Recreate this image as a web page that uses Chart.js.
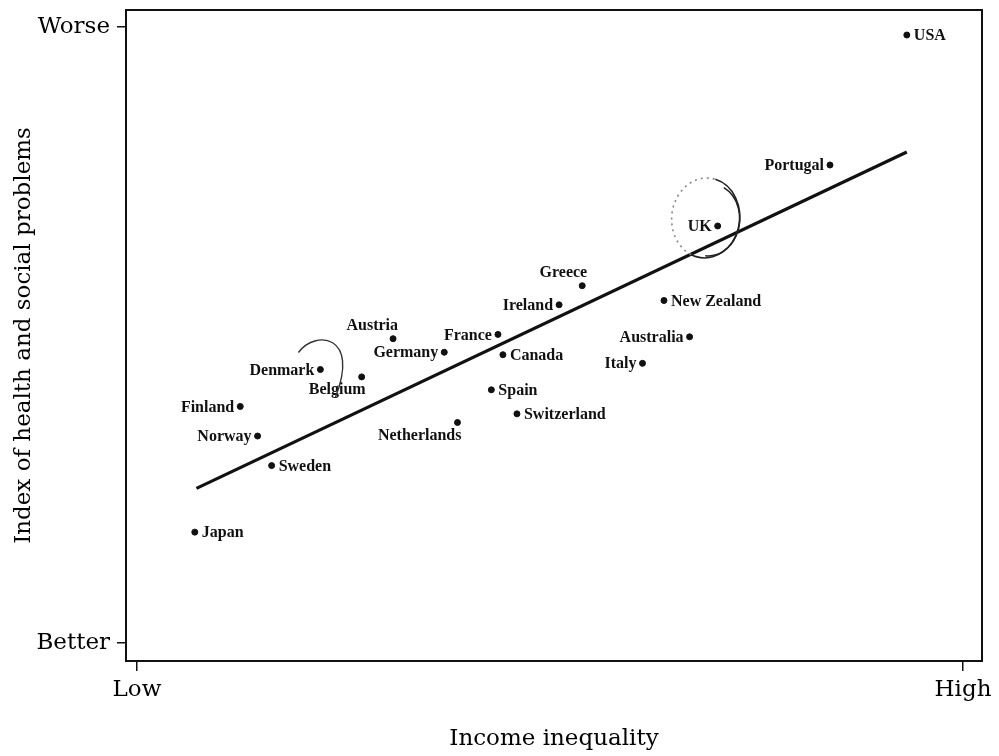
<!DOCTYPE html>
<html>
<head>
<meta charset="utf-8">
<script src="https://cdn.jsdelivr.net/npm/chart.js@4/dist/chart.umd.min.js"></script>
<style>
  html, body { margin: 0; padding: 0; background: #fff; }
  #wrap { width: 999px; height: 756px; }
</style>
</head>
<body>
<div id="wrap"><canvas id="chart" width="999" height="756"></canvas></div>
<script>
// Values (0 = Low / Better, 100 = High / Worse)
const countries = ['USA', 'Portugal', 'UK', 'Greece', 'Ireland', 'New Zealand', 'France', 'Canada',
  'Australia', 'Italy', 'Spain', 'Switzerland', 'Netherlands', 'Austria', 'Germany', 'Denmark',
  'Belgium', 'Finland', 'Norway', 'Sweden', 'Japan'];
const inequality = [93.2, 83.9, 70.3, 53.9, 51.1, 63.8, 43.7, 44.3,
  66.9, 61.2, 42.9, 46.0, 38.8, 31.0, 37.2, 22.2,
  27.2, 12.5, 14.6, 16.3, 7.0];
const problems = [98.7, 77.6, 67.7, 58.0, 54.9, 55.6, 50.1, 46.8,
  49.7, 45.4, 41.1, 37.2, 35.8, 49.4, 47.2, 44.4,
  43.2, 38.4, 33.6, 28.8, 18.0];

// regression line end points
const fitX = [7.2, 93.2];
const fitY = [25.1, 79.7];

const xTickLabels = ['Low', 'High'];
const yTickLabels = ['Better', 'Worse'];

// where each name sits relative to its dot
const labelPlace = {
  'USA': 'right', 'New Zealand': 'right', 'Canada': 'right', 'Spain': 'right',
  'Switzerland': 'right', 'Sweden': 'right', 'Japan': 'right',
  'Greece': 'above', 'Austria': 'above',
  'Belgium': 'below', 'Netherlands': 'below'
};

const serif = '"DejaVu Serif", "Liberation Serif", serif';
const labelFont = 'bold 16px "Liberation Serif", serif';

const points = countries.map((c, i) => ({ x: inequality[i], y: problems[i], name: c }));

const framePlugin = {
  id: 'frame',
  afterDraw(chart) {
    const { ctx, chartArea: a } = chart;
    ctx.save();
    ctx.strokeStyle = '#111';
    ctx.lineWidth = 2;
    ctx.strokeRect(a.left, a.top, a.right - a.left, a.bottom - a.top);
    ctx.restore();
  }
};

const namesPlugin = {
  id: 'names',
  afterDatasetsDraw(chart) {
    const { ctx } = chart;
    const meta = chart.getDatasetMeta(0);
    ctx.save();
    ctx.font = labelFont;
    ctx.fillStyle = '#111';
    meta.data.forEach((pt, i) => {
      const name = countries[i];
      const place = labelPlace[name] || 'left';
      ctx.textBaseline = 'middle';
      if (place === 'right') {
        ctx.textAlign = 'left';
        ctx.fillText(name, pt.x + 7, pt.y + 1);
      } else if (place === 'above') {
        ctx.textAlign = 'right';
        ctx.fillText(name, pt.x + 5, pt.y - 13);
      } else if (place === 'below') {
        ctx.textAlign = 'right';
        ctx.fillText(name, pt.x + 4, pt.y + 13);
      } else {
        ctx.textAlign = 'right';
        ctx.fillText(name, pt.x - 6, pt.y + 1);
      }
    });

    // the pen marks somebody added around UK and Denmark
    const uk = meta.data[countries.indexOf('UK')];
    const dk = meta.data[countries.indexOf('Denmark')];
    ctx.lineWidth = 1.6;
    ctx.strokeStyle = '#222';
    ctx.beginPath();
    ctx.ellipse(uk.x - 12, uk.y - 8, 34, 40, 0.1, -1.4, 1.9);
    ctx.stroke();
    ctx.beginPath();
    ctx.ellipse(uk.x - 8, uk.y - 6, 30, 36, 0.1, -1.2, 1.6);
    ctx.stroke();
    ctx.setLineDash([2, 4]);
    ctx.strokeStyle = '#888';
    ctx.beginPath();
    ctx.ellipse(uk.x - 12, uk.y - 8, 34, 40, 0.1, 1.9, 4.9);
    ctx.stroke();
    ctx.setLineDash([]);
    ctx.strokeStyle = '#333';
    ctx.lineWidth = 1.4;
    ctx.beginPath();
    ctx.moveTo(dk.x - 22, dk.y - 17);
    ctx.bezierCurveTo(dk.x - 5, dk.y - 40, dk.x + 40, dk.y - 35, dk.x + 15, dk.y + 28);
    ctx.stroke();
    ctx.restore();
  }
};

new Chart(document.getElementById('chart'), {
  type: 'scatter',
  data: {
    datasets: [
      {
        label: 'Countries',
        data: points,
        backgroundColor: '#111',
        borderColor: '#111',
        pointRadius: 3,
        pointHoverRadius: 3
      },
      {
        type: 'line',
        label: 'Fit',
        data: fitX.map((x, i) => ({ x, y: fitY[i] })),
        borderColor: '#111',
        borderWidth: 3.2,
        pointRadius: 0,
        fill: false
      }
    ]
  },
  plugins: [framePlugin, namesPlugin],
  options: {
    responsive: false,
    animation: false,
    layout: { padding: { left: 0, top: 10, right: 17, bottom: 0 } },
    plugins: {
      legend: { display: false },
      tooltip: { enabled: false }
    },
    scales: {
      x: {
        type: 'linear',
        min: -1.33,
        max: 102.3,
        afterBuildTicks(scale) { scale.ticks = [{ value: 0 }, { value: 100 }]; },
        afterFit(scale) { scale.height = 95; scale.paddingLeft = 0; scale.paddingRight = 0; },
        ticks: {
          callback: (v) => v === 0 ? xTickLabels[0] : xTickLabels[1],
          color: '#000',
          font: { family: serif, size: 23 },
          padding: 5,
          maxRotation: 0
        },
        grid: { drawOnChartArea: false, tickLength: 10, color: '#111', lineWidth: 1.5 },
        border: { display: true, color: '#111', width: 2 },
        title: {
          display: true,
          text: 'Income inequality',
          color: '#000',
          font: { family: serif, size: 23 },
          padding: { top: 0, bottom: 3 }
        }
      },
      y: {
        type: 'linear',
        min: -2.92,
        max: 102.76,
        afterBuildTicks(scale) { scale.ticks = [{ value: 0 }, { value: 100 }]; },
        afterFit(scale) { scale.width = 126; scale.paddingTop = 0; scale.paddingBottom = 0; },
        ticks: {
          callback: (v) => v === 0 ? yTickLabels[0] : yTickLabels[1],
          color: '#000',
          font: { family: serif, size: 23 },
          padding: 7
        },
        grid: { drawOnChartArea: false, tickLength: 9, color: '#111', lineWidth: 1.5 },
        border: { display: true, color: '#111', width: 2 },
        title: {
          display: true,
          text: 'Index of health and social problems',
          color: '#000',
          font: { family: serif, size: 23 },
          padding: { top: 10, bottom: 0 }
        }
      }
    }
  }
});
</script>
</body>
</html>
